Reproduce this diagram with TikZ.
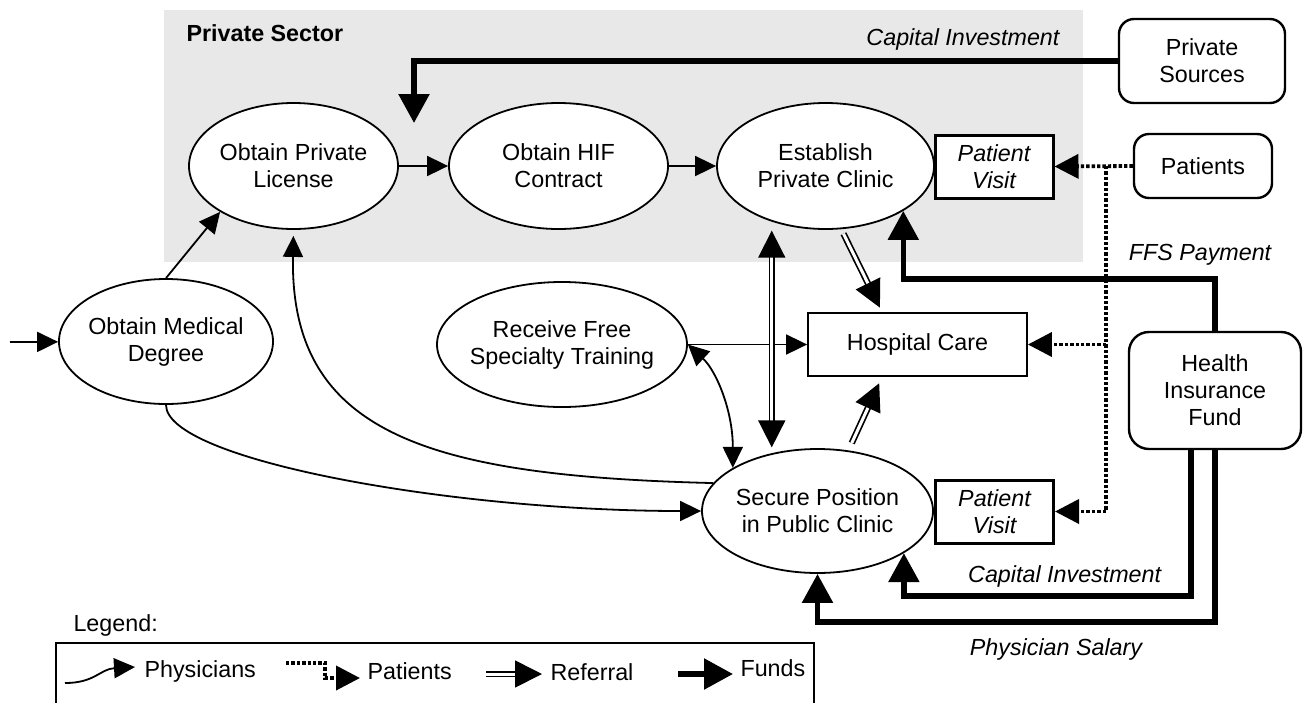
\documentclass[tikz,border=0pt]{standalone}
\usepackage{fontspec}
\setmainfont{Liberation Sans}
\usetikzlibrary{shapes.geometric,arrows.meta,calc}

\begin{document}
\begin{tikzpicture}[x=1pt,y=-1pt,
    font=\fontsize{23.3}{27}\selectfont,
    proc/.style={ellipse,draw,fill=white,line width=1.8pt,inner sep=-15pt,align=center},
    agent/.style={draw,rounded corners=15pt,fill=white,line width=2.4pt,align=center},
    visit/.style={draw,fill=white,line width=3pt,align=center,inner sep=0pt,
      minimum width=118pt,minimum height=63pt,font=\fontsize{23.3}{27}\selectfont\itshape},
    care/.style={draw,fill=white,line width=1.8pt,minimum width=219pt,minimum height=63pt},
    lbl/.style={font=\fontsize{23.3}{27}\selectfont\itshape},
    phys/.style={line width=1.8pt,-{Triangle[length=21pt,width=20pt]}},
    pats/.style={line width=3.8pt,dash pattern=on 3.4pt off 2pt,-{Triangle[length=24pt,width=24pt]}},
    refer/.style={double,double distance=3pt,line width=1.7pt,-{Triangle[length=27pt,width=27pt]}},
    funds/.style={line width=5.5pt,-{Triangle[length=29pt,width=30pt]}}]
  \useasboundingbox (0,0) rectangle (1303,702);

  % private sector
  \fill[gray!18] (164,10) rectangle (1083,262);
  \node[anchor=west,font=\fontsize{23.3}{27}\selectfont\bfseries] (sect) at (183,33) {Private Sector};

  \node[proc,minimum width=209pt,minimum height=126pt] (lic) at (293.5,166) {Obtain Private\\License};
  \node[proc,minimum width=219pt,minimum height=126pt] (hif) at (558.5,166) {Obtain HIF\\Contract};
  \node[proc,minimum width=217pt,minimum height=126pt] (est) at (825.5,166) {Establish\\Private Clinic};
  \node[proc,minimum width=214pt,minimum height=125pt] (deg) at (166,341.5) {Obtain Medical\\Degree};
  \node[proc,minimum width=250pt,minimum height=125pt] (trn) at (562,344.5) {Receive Free\\Specialty Training};
  \node[proc,minimum width=231pt,minimum height=124pt] (sec) at (817.5,511) {Secure Position\\in Public Clinic};
  \node[care] (hos) at (917.5,344.5) {Hospital Care};
  \node[visit] (pv1) at (994,166.5) {Patient\\Visit};
  \node[visit] (pv2) at (994.5,511.5) {Patient\\Visit};
  \node[agent,minimum width=166pt,minimum height=84pt] (prv) at (1202,61) {Private\\Sources};
  \node[agent,minimum width=138pt,minimum height=64pt] (pat) at (1203,166) {Patients};
  \node[agent,rounded corners=20pt,minimum width=172pt,minimum height=117pt] (fund) at (1215,390.5) {Health\\Insurance\\Fund};

  \coordinate (entry) at (10,342);
  \coordinate (capin) at (414,123);
  \coordinate (jn) at (1106,166);

  % physicians
  \draw[phys] (entry) -- (deg);
  \draw[phys] (deg.north) -- (lic.212);
  \draw[phys] (lic) -- (hif);
  \draw[phys] (hif) -- (est);
  \draw[phys] (trn) -- (hos);
  \draw[phys] (deg.south) .. controls +(0,55) and +(-250,0) .. (sec.west);
  \draw[phys,shorten >=6pt] (sec.165) .. controls +(-283,-7) and +(-4,205) .. (lic.south);
  \draw[phys,{Triangle[length=21pt,width=20pt]}-{Triangle[length=21pt,width=20pt]}]
    (trn.east) .. controls +(28,26) and +(0,-58) .. (sec.153);

  % referrals
  \draw[refer,{Triangle[length=27pt,width=27pt]}-{Triangle[length=27pt,width=27pt]},shorten <=9pt,shorten >=6pt]
    (est.226) -- (est.226 |- sec.129);
  \draw[refer,shorten <=5pt,shorten >=5pt] (est.-76) -- ($(hos.north west)+(75,0)$);
  \draw[refer,shorten <=8pt,shorten >=7pt] (sec.63) -- ($(hos.south west)+(75,0)$);

  % patients
  \draw[pats] (pat.west) -- (pv1.east);
  \draw[pats] (jn) |- (pv2.east);
  \draw[pats] (jn |- hos.east) -- (hos.east);

  % funds
  \draw[funds] (prv.west) -| node[lbl,pos=0.11,above=5pt] {Capital Investment} (capin);
  \draw[funds] (fund.north) -- ++(0,-52) node[lbl,above=7pt,xshift=-15pt] {FFS Payment} -| (est.-30);
  \draw[funds] ($(fund.south)+(-24,0)$) -- ++(0,146) -| node[lbl,pos=0.22,above=3pt] {Capital Investment} (sec.-26);
  \draw[funds] (fund.south) -- ++(0,172) -| node[lbl,pos=0.2,below=10pt] {Physician Salary} (sec.south);

  % legend
  \node[anchor=west] (lgd) at (70,625) {Legend:};
  \draw[line width=2pt] (56,643) rectangle (814,712);
  \node[anchor=west] (lphy) at (141,671) {Physicians};
  \node[anchor=west] (lpat) at (364,671) {Patients};
  \node[anchor=west] (lref) at (547,672) {Referral};
  \node[anchor=west] (lfun) at (737,668) {Funds};
  \draw[phys] ($(lphy.west)+(-76,12)$) .. controls +(30,0) and +(-35,2) .. ($(lphy.west)+(-6,-4)$);
  \draw[pats] ($(lpat.west)+(-78,-8)$) -| ($(lpat.west)+(-39,7)$) -- ($(lpat.west)+(-4,7)$);
  \draw[refer] ($(lref.west)+(-61,2)$) -- ($(lref.west)+(-5,2)$);
  \draw[funds] ($(lfun.west)+(-59,6)$) -- ($(lfun.west)+(-4,6)$);
\end{tikzpicture}
\end{document}
